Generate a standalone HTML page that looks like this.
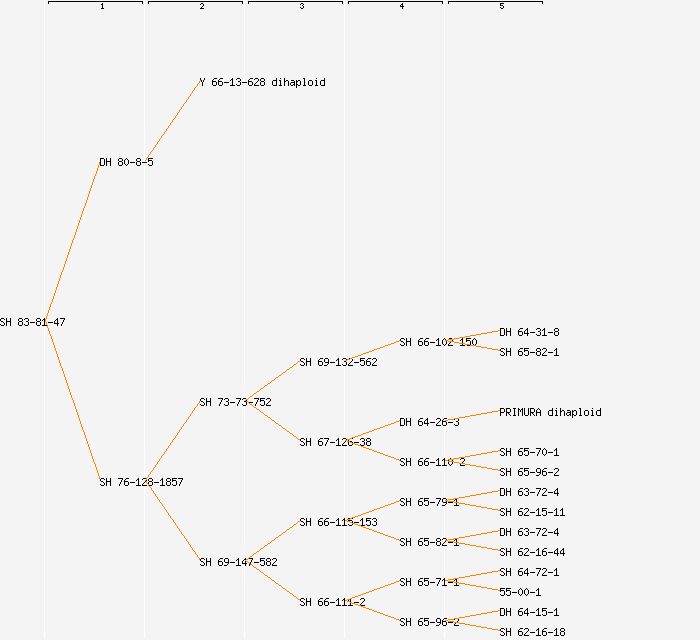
<!DOCTYPE html>
<html><head><meta charset="utf-8"><title>pedigree</title><style>
html,body{margin:0;padding:0;background:#f4f4f4;overflow:hidden;width:700px;height:640px}
svg{position:absolute;left:0;top:0;display:block}
</style></head><body>
<svg width="700" height="640" viewBox="0 0 700 640" shape-rendering="crispEdges">
<rect x="0" y="0" width="700" height="640" fill="#f4f4f4"/>
<path fill="#fff" d="M44 1h1v637h-1zM144 1h1v637h-1zM244 1h1v637h-1zM344 1h1v637h-1zM444 1h1v637h-1z"/>
<path fill="#000" d="M48 1h95v1h-95zM148 1h95v1h-95zM248 1h95v1h-95zM348 1h95v1h-95zM448 1h95v1h-95zM48 2h1v2h-1zM142 2h1v2h-1zM148 2h1v2h-1zM242 2h1v2h-1zM248 2h1v2h-1zM342 2h1v2h-1zM348 2h1v2h-1zM442 2h1v2h-1zM448 2h1v2h-1zM542 2h1v2h-1zM102 3h1v1h-1zM201 3h2v1h-2zM301 3h2v1h-2zM402 3h1v1h-1zM500 3h4v1h-4zM101 4h2v1h-2zM200 4h1v1h-1zM203 4h1v2h-1zM300 4h1v1h-1zM303 4h1v1h-1zM401 4h2v1h-2zM500 4h1v1h-1zM102 5h1v3h-1zM302 5h1v1h-1zM400 5h1v1h-1zM402 5h1v1h-1zM500 5h3v1h-3zM202 6h1v1h-1zM303 6h1v2h-1zM400 6h4v1h-4zM503 6h1v2h-1zM201 7h1v1h-1zM300 7h1v1h-1zM402 7h1v2h-1zM500 7h1v1h-1zM101 8h3v1h-3zM200 8h4v1h-4zM301 8h2v1h-2zM501 8h2v1h-2z"/>
<path fill="#000" d="M1 318h3v1h-3zM6 318h1v3h-1zM10 318h1v3h-1zM19 318h3v1h-3zM25 318h3v1h-3zM37 318h3v1h-3zM44 318h1v1h-1zM57 318h1v1h-1zM60 318h5v1h-5zM0 319h1v2h-1zM4 319h1v1h-1zM18 319h1v2h-1zM22 319h1v2h-1zM24 319h1v1h-1zM28 319h1v2h-1zM36 319h1v2h-1zM40 319h1v2h-1zM43 319h2v1h-2zM56 319h2v1h-2zM64 319h1v1h-1zM42 320h1v1h-1zM44 320h1v5h-1zM55 320h1v1h-1zM57 320h1v3h-1zM63 320h1v2h-1zM1 321h2v1h-2zM6 321h5v1h-5zM19 321h3v1h-3zM26 321h2v1h-2zM37 321h3v1h-3zM54 321h1v2h-1zM3 322h1v1h-1zM6 322h1v4h-1zM10 322h1v4h-1zM18 322h1v3h-1zM22 322h1v3h-1zM28 322h1v3h-1zM30 322h5v1h-5zM36 322h1v3h-1zM40 322h1v3h-1zM48 322h5v1h-5zM62 322h1v2h-1zM4 323h1v2h-1zM54 323h5v1h-5zM0 324h1v1h-1zM24 324h1v1h-1zM57 324h1v2h-1zM61 324h1v2h-1zM1 325h3v1h-3zM19 325h3v1h-3zM25 325h3v1h-3zM37 325h3v1h-3zM42 325h5v1h-5z"/>
<path fill="#ff8400" d="M100 160h1v2h-1zM99 162h1v3h-1zM98 165h1v3h-1zM97 168h1v3h-1zM96 171h1v3h-1zM95 174h1v2h-1zM94 176h1v3h-1zM93 179h1v3h-1zM92 182h1v3h-1zM91 185h1v3h-1zM90 188h1v3h-1zM89 191h1v3h-1zM88 194h1v3h-1zM87 197h1v3h-1zM86 200h1v3h-1zM85 203h1v3h-1zM84 206h1v2h-1zM83 208h1v3h-1zM82 211h1v3h-1zM81 214h1v3h-1zM80 217h1v3h-1zM79 220h1v3h-1zM78 223h1v3h-1zM77 226h1v3h-1zM76 229h1v3h-1zM75 232h1v3h-1zM74 235h1v3h-1zM73 238h1v2h-1zM72 240h1v3h-1zM71 243h1v3h-1zM70 246h1v3h-1zM69 249h1v3h-1zM68 252h1v3h-1zM67 255h1v3h-1zM66 258h1v3h-1zM65 261h1v3h-1zM64 264h1v3h-1zM63 267h1v3h-1zM62 270h1v2h-1zM61 272h1v3h-1zM60 275h1v3h-1zM59 278h1v3h-1zM58 281h1v3h-1zM57 284h1v3h-1zM56 287h1v3h-1zM55 290h1v3h-1zM54 293h1v3h-1zM53 296h1v3h-1zM52 299h1v3h-1zM51 302h1v2h-1zM50 304h1v3h-1zM49 307h1v3h-1zM48 310h1v3h-1zM47 313h1v3h-1zM46 316h1v3h-1zM45 319h1v3h-1zM46 322h1v3h-1zM47 325h1v3h-1zM48 328h1v3h-1zM49 331h1v3h-1zM50 334h1v2h-1zM51 336h1v3h-1zM52 339h1v3h-1zM53 342h1v3h-1zM54 345h1v3h-1zM55 348h1v3h-1zM56 351h1v3h-1zM57 354h1v3h-1zM58 357h1v3h-1zM59 360h1v3h-1zM60 363h1v3h-1zM61 366h1v2h-1zM62 368h1v3h-1zM63 371h1v3h-1zM64 374h1v3h-1zM65 377h1v3h-1zM66 380h1v3h-1zM67 383h1v3h-1zM68 386h1v3h-1zM69 389h1v3h-1zM70 392h1v3h-1zM71 395h1v3h-1zM72 398h1v2h-1zM73 400h1v3h-1zM74 403h1v3h-1zM75 406h1v3h-1zM76 409h1v3h-1zM77 412h1v3h-1zM78 415h1v3h-1zM79 418h1v3h-1zM80 421h1v3h-1zM81 424h1v3h-1zM82 427h1v3h-1zM83 430h1v2h-1zM84 432h1v3h-1zM85 435h1v3h-1zM86 438h1v3h-1zM87 441h1v3h-1zM88 444h1v3h-1zM89 447h1v3h-1zM90 450h1v3h-1zM91 453h1v3h-1zM92 456h1v3h-1zM93 459h1v3h-1zM94 462h1v2h-1zM95 464h1v3h-1zM96 467h1v3h-1zM97 470h1v3h-1zM98 473h1v3h-1zM99 476h1v3h-1zM100 479h1v2h-1z"/>
<path fill="#000" d="M100 158h4v1h-4zM106 158h1v3h-1zM110 158h1v3h-1zM119 158h3v1h-3zM126 158h1v1h-1zM137 158h3v1h-3zM148 158h5v1h-5zM100 159h1v6h-1zM104 159h1v6h-1zM118 159h1v2h-1zM122 159h1v2h-1zM125 159h1v1h-1zM127 159h1v1h-1zM136 159h1v2h-1zM140 159h1v2h-1zM148 159h1v1h-1zM124 160h1v4h-1zM128 160h1v4h-1zM148 160h4v1h-4zM106 161h5v1h-5zM119 161h3v1h-3zM137 161h3v1h-3zM148 161h1v1h-1zM152 161h1v4h-1zM106 162h1v4h-1zM110 162h1v4h-1zM118 162h1v3h-1zM122 162h1v3h-1zM130 162h5v1h-5zM136 162h1v3h-1zM140 162h1v3h-1zM142 162h5v1h-5zM125 164h1v1h-1zM127 164h1v1h-1zM148 164h1v1h-1zM100 165h4v1h-4zM119 165h3v1h-3zM126 165h1v1h-1zM137 165h3v1h-3zM149 165h3v1h-3zM101 478h3v1h-3zM106 478h1v3h-1zM110 478h1v3h-1zM118 478h5v1h-5zM126 478h3v1h-3zM138 478h1v1h-1zM143 478h3v1h-3zM149 478h3v1h-3zM162 478h1v1h-1zM167 478h3v1h-3zM172 478h5v1h-5zM178 478h5v1h-5zM100 479h1v2h-1zM104 479h1v1h-1zM122 479h1v1h-1zM125 479h1v1h-1zM137 479h2v1h-2zM142 479h1v1h-1zM146 479h1v2h-1zM148 479h1v2h-1zM152 479h1v2h-1zM161 479h2v1h-2zM166 479h1v2h-1zM170 479h1v2h-1zM172 479h1v1h-1zM182 479h1v1h-1zM121 480h1v2h-1zM124 480h1v1h-1zM136 480h1v1h-1zM138 480h1v5h-1zM160 480h1v1h-1zM162 480h1v5h-1zM172 480h4v1h-4zM181 480h1v2h-1zM101 481h2v1h-2zM106 481h5v1h-5zM124 481h4v1h-4zM145 481h1v1h-1zM149 481h3v1h-3zM167 481h3v1h-3zM172 481h1v1h-1zM176 481h1v4h-1zM103 482h1v1h-1zM106 482h1v4h-1zM110 482h1v4h-1zM120 482h1v2h-1zM124 482h1v3h-1zM128 482h1v3h-1zM130 482h5v1h-5zM144 482h1v1h-1zM148 482h1v3h-1zM152 482h1v3h-1zM154 482h5v1h-5zM166 482h1v3h-1zM170 482h1v3h-1zM180 482h1v2h-1zM104 483h1v2h-1zM143 483h1v1h-1zM100 484h1v1h-1zM119 484h1v2h-1zM142 484h1v1h-1zM172 484h1v1h-1zM179 484h1v2h-1zM101 485h3v1h-3zM125 485h3v1h-3zM136 485h5v1h-5zM142 485h5v1h-5zM149 485h3v1h-3zM160 485h5v1h-5zM167 485h3v1h-3zM173 485h3v1h-3z"/>
<path fill="#ff8400" d="M200 80h1v1h-1zM199 81h1v2h-1zM198 83h1v1h-1zM197 84h1v2h-1zM196 86h1v1h-1zM195 87h1v1h-1zM194 88h1v2h-1zM193 90h1v1h-1zM192 91h1v2h-1zM191 93h1v1h-1zM190 94h1v2h-1zM189 96h1v1h-1zM188 97h1v2h-1zM187 99h1v1h-1zM186 100h1v2h-1zM185 102h1v1h-1zM184 103h1v1h-1zM183 104h1v2h-1zM182 106h1v1h-1zM181 107h1v2h-1zM180 109h1v1h-1zM179 110h1v2h-1zM178 112h1v1h-1zM177 113h1v2h-1zM176 115h1v1h-1zM175 116h1v2h-1zM174 118h1v1h-1zM173 119h1v1h-1zM172 120h1v2h-1zM171 122h1v1h-1zM170 123h1v2h-1zM169 125h1v1h-1zM168 126h1v2h-1zM167 128h1v1h-1zM166 129h1v2h-1zM165 131h1v1h-1zM164 132h1v2h-1zM163 134h1v1h-1zM162 135h1v1h-1zM161 136h1v2h-1zM160 138h1v1h-1zM159 139h1v2h-1zM158 141h1v1h-1zM157 142h1v2h-1zM156 144h1v1h-1zM155 145h1v2h-1zM154 147h1v1h-1zM153 148h1v2h-1zM152 150h1v1h-1zM151 151h1v1h-1zM150 152h1v2h-1zM149 154h1v1h-1zM148 155h1v2h-1zM147 157h1v1h-1zM146 158h1v2h-1zM145 160h1v1h-1zM200 400h1v1h-1zM199 401h1v2h-1zM198 403h1v1h-1zM197 404h1v2h-1zM196 406h1v1h-1zM195 407h1v1h-1zM194 408h1v2h-1zM193 410h1v1h-1zM192 411h1v2h-1zM191 413h1v1h-1zM190 414h1v2h-1zM189 416h1v1h-1zM188 417h1v2h-1zM187 419h1v1h-1zM186 420h1v2h-1zM185 422h1v1h-1zM184 423h1v1h-1zM183 424h1v2h-1zM182 426h1v1h-1zM181 427h1v2h-1zM180 429h1v1h-1zM179 430h1v2h-1zM178 432h1v1h-1zM177 433h1v2h-1zM176 435h1v1h-1zM175 436h1v2h-1zM174 438h1v1h-1zM173 439h1v1h-1zM172 440h1v2h-1zM171 442h1v1h-1zM170 443h1v2h-1zM169 445h1v1h-1zM168 446h1v2h-1zM167 448h1v1h-1zM166 449h1v2h-1zM165 451h1v1h-1zM164 452h1v2h-1zM163 454h1v1h-1zM162 455h1v1h-1zM161 456h1v2h-1zM160 458h1v1h-1zM159 459h1v2h-1zM158 461h1v1h-1zM157 462h1v2h-1zM156 464h1v1h-1zM155 465h1v2h-1zM154 467h1v1h-1zM153 468h1v2h-1zM152 470h1v1h-1zM151 471h1v1h-1zM150 472h1v2h-1zM149 474h1v1h-1zM148 475h1v2h-1zM147 477h1v1h-1zM146 478h1v2h-1zM145 480h1v1h-1zM146 481h1v2h-1zM147 483h1v1h-1zM148 484h1v2h-1zM149 486h1v1h-1zM150 487h1v1h-1zM151 488h1v2h-1zM152 490h1v1h-1zM153 491h1v2h-1zM154 493h1v1h-1zM155 494h1v2h-1zM156 496h1v1h-1zM157 497h1v2h-1zM158 499h1v1h-1zM159 500h1v2h-1zM160 502h1v1h-1zM161 503h1v1h-1zM162 504h1v2h-1zM163 506h1v1h-1zM164 507h1v2h-1zM165 509h1v1h-1zM166 510h1v2h-1zM167 512h1v1h-1zM168 513h1v2h-1zM169 515h1v1h-1zM170 516h1v2h-1zM171 518h1v1h-1zM172 519h1v1h-1zM173 520h1v2h-1zM174 522h1v1h-1zM175 523h1v2h-1zM176 525h1v1h-1zM177 526h1v2h-1zM178 528h1v1h-1zM179 529h1v2h-1zM180 531h1v1h-1zM181 532h1v2h-1zM182 534h1v1h-1zM183 535h1v1h-1zM184 536h1v2h-1zM185 538h1v1h-1zM186 539h1v2h-1zM187 541h1v1h-1zM188 542h1v2h-1zM189 544h1v1h-1zM190 545h1v2h-1zM191 547h1v1h-1zM192 548h1v2h-1zM193 550h1v1h-1zM194 551h1v1h-1zM195 552h1v2h-1zM196 554h1v1h-1zM197 555h1v2h-1zM198 557h1v1h-1zM199 558h1v2h-1zM200 560h1v1h-1z"/>
<path fill="#000" d="M200 78h1v2h-1zM204 78h1v2h-1zM214 78h3v1h-3zM220 78h3v1h-3zM232 78h1v1h-1zM237 78h3v1h-3zM250 78h3v1h-3zM255 78h3v1h-3zM261 78h3v1h-3zM276 78h1v2h-1zM280 78h1v1h-1zM284 78h1v3h-1zM303 78h2v1h-2zM316 78h1v1h-1zM324 78h1v2h-1zM213 79h1v1h-1zM219 79h1v1h-1zM231 79h2v1h-2zM236 79h1v1h-1zM240 79h1v2h-1zM249 79h1v1h-1zM254 79h1v1h-1zM258 79h1v2h-1zM260 79h1v2h-1zM264 79h1v2h-1zM304 79h1v6h-1zM201 80h1v2h-1zM203 80h1v2h-1zM212 80h1v1h-1zM218 80h1v1h-1zM230 80h1v1h-1zM232 80h1v5h-1zM248 80h1v1h-1zM273 80h4v1h-4zM279 80h2v1h-2zM286 80h2v1h-2zM291 80h3v1h-3zM296 80h1v1h-1zM298 80h2v1h-2zM309 80h3v1h-3zM315 80h2v1h-2zM321 80h4v1h-4zM212 81h4v1h-4zM218 81h4v1h-4zM238 81h2v1h-2zM248 81h4v1h-4zM257 81h1v1h-1zM261 81h3v1h-3zM272 81h1v4h-1zM276 81h1v4h-1zM280 81h1v4h-1zM284 81h2v1h-2zM288 81h1v5h-1zM294 81h1v1h-1zM296 81h2v1h-2zM300 81h1v4h-1zM308 81h1v4h-1zM312 81h1v4h-1zM316 81h1v4h-1zM320 81h1v4h-1zM324 81h1v4h-1zM202 82h1v4h-1zM212 82h1v3h-1zM216 82h1v3h-1zM218 82h1v3h-1zM222 82h1v3h-1zM224 82h5v1h-5zM240 82h1v3h-1zM242 82h5v1h-5zM248 82h1v3h-1zM252 82h1v3h-1zM256 82h1v1h-1zM260 82h1v3h-1zM264 82h1v3h-1zM284 82h1v4h-1zM291 82h4v1h-4zM296 82h1v2h-1zM255 83h1v1h-1zM290 83h1v2h-1zM294 83h1v1h-1zM236 84h1v1h-1zM254 84h1v1h-1zM293 84h2v1h-2zM296 84h2v1h-2zM213 85h3v1h-3zM219 85h3v1h-3zM230 85h5v1h-5zM237 85h3v1h-3zM249 85h3v1h-3zM254 85h5v1h-5zM261 85h3v1h-3zM273 85h4v1h-4zM279 85h3v1h-3zM291 85h2v1h-2zM294 85h1v1h-1zM296 85h1v3h-1zM298 85h2v1h-2zM303 85h3v1h-3zM309 85h3v1h-3zM315 85h3v1h-3zM321 85h4v1h-4zM201 398h3v1h-3zM206 398h1v3h-1zM210 398h1v3h-1zM218 398h5v1h-5zM225 398h3v1h-3zM236 398h5v1h-5zM243 398h3v1h-3zM254 398h5v1h-5zM260 398h5v1h-5zM267 398h3v1h-3zM200 399h1v2h-1zM204 399h1v1h-1zM222 399h1v1h-1zM224 399h1v1h-1zM228 399h1v2h-1zM240 399h1v1h-1zM242 399h1v1h-1zM246 399h1v2h-1zM258 399h1v1h-1zM260 399h1v1h-1zM266 399h1v1h-1zM270 399h1v2h-1zM221 400h1v2h-1zM239 400h1v2h-1zM257 400h1v2h-1zM260 400h4v1h-4zM201 401h2v1h-2zM206 401h5v1h-5zM226 401h2v1h-2zM244 401h2v1h-2zM260 401h1v1h-1zM264 401h1v4h-1zM269 401h1v1h-1zM203 402h1v1h-1zM206 402h1v4h-1zM210 402h1v4h-1zM220 402h1v2h-1zM228 402h1v3h-1zM230 402h5v1h-5zM238 402h1v2h-1zM246 402h1v3h-1zM248 402h5v1h-5zM256 402h1v2h-1zM268 402h1v1h-1zM204 403h1v2h-1zM267 403h1v1h-1zM200 404h1v1h-1zM219 404h1v2h-1zM224 404h1v1h-1zM237 404h1v2h-1zM242 404h1v1h-1zM255 404h1v2h-1zM260 404h1v1h-1zM266 404h1v1h-1zM201 405h3v1h-3zM225 405h3v1h-3zM243 405h3v1h-3zM261 405h3v1h-3zM266 405h5v1h-5zM201 558h3v1h-3zM206 558h1v3h-1zM210 558h1v3h-1zM220 558h3v1h-3zM225 558h3v1h-3zM238 558h1v1h-1zM245 558h1v1h-1zM248 558h5v1h-5zM260 558h5v1h-5zM267 558h3v1h-3zM273 558h3v1h-3zM200 559h1v2h-1zM204 559h1v1h-1zM219 559h1v1h-1zM224 559h1v3h-1zM228 559h1v3h-1zM237 559h2v1h-2zM244 559h2v1h-2zM252 559h1v1h-1zM260 559h1v1h-1zM266 559h1v2h-1zM270 559h1v2h-1zM272 559h1v1h-1zM276 559h1v2h-1zM218 560h1v1h-1zM236 560h1v1h-1zM238 560h1v5h-1zM243 560h1v1h-1zM245 560h1v3h-1zM251 560h1v2h-1zM260 560h4v1h-4zM201 561h2v1h-2zM206 561h5v1h-5zM218 561h4v1h-4zM242 561h1v2h-1zM260 561h1v1h-1zM264 561h1v4h-1zM267 561h3v1h-3zM275 561h1v1h-1zM203 562h1v1h-1zM206 562h1v4h-1zM210 562h1v4h-1zM218 562h1v3h-1zM222 562h1v3h-1zM225 562h4v1h-4zM230 562h5v1h-5zM250 562h1v2h-1zM254 562h5v1h-5zM266 562h1v3h-1zM270 562h1v3h-1zM274 562h1v1h-1zM204 563h1v2h-1zM228 563h1v1h-1zM242 563h5v1h-5zM273 563h1v1h-1zM200 564h1v1h-1zM227 564h1v1h-1zM245 564h1v2h-1zM249 564h1v2h-1zM260 564h1v1h-1zM272 564h1v1h-1zM201 565h3v1h-3zM219 565h3v1h-3zM224 565h3v1h-3zM236 565h5v1h-5zM261 565h3v1h-3zM267 565h3v1h-3zM272 565h5v1h-5z"/>
<path fill="#ff8400" d="M300 360h1v1h-1zM298 361h2v1h-2zM297 362h1v1h-1zM296 363h1v1h-1zM294 364h2v1h-2zM293 365h1v1h-1zM292 366h1v1h-1zM290 367h2v1h-2zM289 368h1v1h-1zM287 369h2v1h-2zM286 370h1v1h-1zM285 371h1v1h-1zM283 372h2v1h-2zM282 373h1v1h-1zM281 374h1v1h-1zM279 375h2v1h-2zM278 376h1v1h-1zM276 377h2v1h-2zM275 378h1v1h-1zM274 379h1v1h-1zM272 380h2v1h-2zM271 381h1v1h-1zM270 382h1v1h-1zM268 383h2v1h-2zM267 384h1v1h-1zM265 385h2v1h-2zM264 386h1v1h-1zM263 387h1v1h-1zM261 388h2v1h-2zM260 389h1v1h-1zM259 390h1v1h-1zM257 391h2v1h-2zM256 392h1v1h-1zM254 393h2v1h-2zM253 394h1v1h-1zM252 395h1v1h-1zM250 396h2v1h-2zM249 397h1v1h-1zM248 398h1v1h-1zM246 399h2v1h-2zM245 400h1v1h-1zM246 401h2v1h-2zM248 402h1v1h-1zM249 403h1v1h-1zM250 404h2v1h-2zM252 405h1v1h-1zM253 406h1v1h-1zM254 407h2v1h-2zM256 408h1v1h-1zM257 409h2v1h-2zM259 410h1v1h-1zM260 411h1v1h-1zM261 412h2v1h-2zM263 413h1v1h-1zM264 414h1v1h-1zM265 415h2v1h-2zM267 416h1v1h-1zM268 417h2v1h-2zM270 418h1v1h-1zM271 419h1v1h-1zM272 420h2v1h-2zM274 421h1v1h-1zM275 422h1v1h-1zM276 423h2v1h-2zM278 424h1v1h-1zM279 425h2v1h-2zM281 426h1v1h-1zM282 427h1v1h-1zM283 428h2v1h-2zM285 429h1v1h-1zM286 430h1v1h-1zM287 431h2v1h-2zM289 432h1v1h-1zM290 433h2v1h-2zM292 434h1v1h-1zM293 435h1v1h-1zM294 436h2v1h-2zM296 437h1v1h-1zM297 438h1v1h-1zM298 439h2v1h-2zM300 440h1v1h-1zM300 520h1v1h-1zM298 521h2v1h-2zM297 522h1v1h-1zM296 523h1v1h-1zM294 524h2v1h-2zM293 525h1v1h-1zM292 526h1v1h-1zM290 527h2v1h-2zM289 528h1v1h-1zM287 529h2v1h-2zM286 530h1v1h-1zM285 531h1v1h-1zM283 532h2v1h-2zM282 533h1v1h-1zM281 534h1v1h-1zM279 535h2v1h-2zM278 536h1v1h-1zM276 537h2v1h-2zM275 538h1v1h-1zM274 539h1v1h-1zM272 540h2v1h-2zM271 541h1v1h-1zM270 542h1v1h-1zM268 543h2v1h-2zM267 544h1v1h-1zM265 545h2v1h-2zM264 546h1v1h-1zM263 547h1v1h-1zM261 548h2v1h-2zM260 549h1v1h-1zM259 550h1v1h-1zM257 551h2v1h-2zM256 552h1v1h-1zM254 553h2v1h-2zM253 554h1v1h-1zM252 555h1v1h-1zM250 556h2v1h-2zM249 557h1v1h-1zM248 558h1v1h-1zM246 559h2v1h-2zM245 560h1v1h-1zM246 561h2v1h-2zM248 562h1v1h-1zM249 563h1v1h-1zM250 564h2v1h-2zM252 565h1v1h-1zM253 566h1v1h-1zM254 567h2v1h-2zM256 568h1v1h-1zM257 569h2v1h-2zM259 570h1v1h-1zM260 571h1v1h-1zM261 572h2v1h-2zM263 573h1v1h-1zM264 574h1v1h-1zM265 575h2v1h-2zM267 576h1v1h-1zM268 577h2v1h-2zM270 578h1v1h-1zM271 579h1v1h-1zM272 580h2v1h-2zM274 581h1v1h-1zM275 582h1v1h-1zM276 583h2v1h-2zM278 584h1v1h-1zM279 585h2v1h-2zM281 586h1v1h-1zM282 587h1v1h-1zM283 588h2v1h-2zM285 589h1v1h-1zM286 590h1v1h-1zM287 591h2v1h-2zM289 592h1v1h-1zM290 593h2v1h-2zM292 594h1v1h-1zM293 595h1v1h-1zM294 596h2v1h-2zM296 597h1v1h-1zM297 598h1v1h-1zM298 599h2v1h-2zM300 600h1v1h-1z"/>
<path fill="#000" d="M301 358h3v1h-3zM306 358h1v3h-1zM310 358h1v3h-1zM320 358h3v1h-3zM325 358h3v1h-3zM338 358h1v1h-1zM343 358h3v1h-3zM349 358h3v1h-3zM360 358h5v1h-5zM368 358h3v1h-3zM373 358h3v1h-3zM300 359h1v2h-1zM304 359h1v1h-1zM319 359h1v1h-1zM324 359h1v3h-1zM328 359h1v3h-1zM337 359h2v1h-2zM342 359h1v1h-1zM346 359h1v2h-1zM348 359h1v1h-1zM352 359h1v2h-1zM360 359h1v1h-1zM367 359h1v1h-1zM372 359h1v1h-1zM376 359h1v2h-1zM318 360h1v1h-1zM336 360h1v1h-1zM338 360h1v5h-1zM360 360h4v1h-4zM366 360h1v1h-1zM301 361h2v1h-2zM306 361h5v1h-5zM318 361h4v1h-4zM344 361h2v1h-2zM351 361h1v1h-1zM360 361h1v1h-1zM364 361h1v4h-1zM366 361h4v1h-4zM375 361h1v1h-1zM303 362h1v1h-1zM306 362h1v4h-1zM310 362h1v4h-1zM318 362h1v3h-1zM322 362h1v3h-1zM325 362h4v1h-4zM330 362h5v1h-5zM346 362h1v3h-1zM350 362h1v1h-1zM354 362h5v1h-5zM366 362h1v3h-1zM370 362h1v3h-1zM374 362h1v1h-1zM304 363h1v2h-1zM328 363h1v1h-1zM349 363h1v1h-1zM373 363h1v1h-1zM300 364h1v1h-1zM327 364h1v1h-1zM342 364h1v1h-1zM348 364h1v1h-1zM360 364h1v1h-1zM372 364h1v1h-1zM301 365h3v1h-3zM319 365h3v1h-3zM324 365h3v1h-3zM336 365h5v1h-5zM343 365h3v1h-3zM348 365h5v1h-5zM361 365h3v1h-3zM367 365h3v1h-3zM372 365h5v1h-5zM301 438h3v1h-3zM306 438h1v3h-1zM310 438h1v3h-1zM320 438h3v1h-3zM324 438h5v1h-5zM338 438h1v1h-1zM343 438h3v1h-3zM350 438h3v1h-3zM361 438h3v1h-3zM367 438h3v1h-3zM300 439h1v2h-1zM304 439h1v1h-1zM319 439h1v1h-1zM328 439h1v1h-1zM337 439h2v1h-2zM342 439h1v1h-1zM346 439h1v2h-1zM349 439h1v1h-1zM360 439h1v1h-1zM364 439h1v2h-1zM366 439h1v2h-1zM370 439h1v2h-1zM318 440h1v1h-1zM327 440h1v2h-1zM336 440h1v1h-1zM338 440h1v5h-1zM348 440h1v1h-1zM301 441h2v1h-2zM306 441h5v1h-5zM318 441h4v1h-4zM345 441h1v1h-1zM348 441h4v1h-4zM362 441h2v1h-2zM367 441h3v1h-3zM303 442h1v1h-1zM306 442h1v4h-1zM310 442h1v4h-1zM318 442h1v3h-1zM322 442h1v3h-1zM326 442h1v2h-1zM330 442h5v1h-5zM344 442h1v1h-1zM348 442h1v3h-1zM352 442h1v3h-1zM354 442h5v1h-5zM364 442h1v3h-1zM366 442h1v3h-1zM370 442h1v3h-1zM304 443h1v2h-1zM343 443h1v1h-1zM300 444h1v1h-1zM325 444h1v2h-1zM342 444h1v1h-1zM360 444h1v1h-1zM301 445h3v1h-3zM319 445h3v1h-3zM336 445h5v1h-5zM342 445h5v1h-5zM349 445h3v1h-3zM361 445h3v1h-3zM367 445h3v1h-3zM301 518h3v1h-3zM306 518h1v3h-1zM310 518h1v3h-1zM320 518h3v1h-3zM326 518h3v1h-3zM338 518h1v1h-1zM344 518h1v1h-1zM348 518h5v1h-5zM362 518h1v1h-1zM366 518h5v1h-5zM373 518h3v1h-3zM300 519h1v2h-1zM304 519h1v1h-1zM319 519h1v1h-1zM325 519h1v1h-1zM337 519h2v1h-2zM343 519h2v1h-2zM348 519h1v1h-1zM361 519h2v1h-2zM366 519h1v1h-1zM372 519h1v1h-1zM376 519h1v2h-1zM318 520h1v1h-1zM324 520h1v1h-1zM336 520h1v1h-1zM338 520h1v5h-1zM342 520h1v1h-1zM344 520h1v5h-1zM348 520h4v1h-4zM360 520h1v1h-1zM362 520h1v5h-1zM366 520h4v1h-4zM301 521h2v1h-2zM306 521h5v1h-5zM318 521h4v1h-4zM324 521h4v1h-4zM348 521h1v1h-1zM352 521h1v4h-1zM366 521h1v1h-1zM370 521h1v4h-1zM374 521h2v1h-2zM303 522h1v1h-1zM306 522h1v4h-1zM310 522h1v4h-1zM318 522h1v3h-1zM322 522h1v3h-1zM324 522h1v3h-1zM328 522h1v3h-1zM330 522h5v1h-5zM354 522h5v1h-5zM376 522h1v3h-1zM304 523h1v2h-1zM300 524h1v1h-1zM348 524h1v1h-1zM366 524h1v1h-1zM372 524h1v1h-1zM301 525h3v1h-3zM319 525h3v1h-3zM325 525h3v1h-3zM336 525h5v1h-5zM342 525h5v1h-5zM349 525h3v1h-3zM360 525h5v1h-5zM367 525h3v1h-3zM373 525h3v1h-3zM301 598h3v1h-3zM306 598h1v3h-1zM310 598h1v3h-1zM320 598h3v1h-3zM326 598h3v1h-3zM338 598h1v1h-1zM344 598h1v1h-1zM350 598h1v1h-1zM361 598h3v1h-3zM300 599h1v2h-1zM304 599h1v1h-1zM319 599h1v1h-1zM325 599h1v1h-1zM337 599h2v1h-2zM343 599h2v1h-2zM349 599h2v1h-2zM360 599h1v1h-1zM364 599h1v2h-1zM318 600h1v1h-1zM324 600h1v1h-1zM336 600h1v1h-1zM338 600h1v5h-1zM342 600h1v1h-1zM344 600h1v5h-1zM348 600h1v1h-1zM350 600h1v5h-1zM301 601h2v1h-2zM306 601h5v1h-5zM318 601h4v1h-4zM324 601h4v1h-4zM363 601h1v1h-1zM303 602h1v1h-1zM306 602h1v4h-1zM310 602h1v4h-1zM318 602h1v3h-1zM322 602h1v3h-1zM324 602h1v3h-1zM328 602h1v3h-1zM330 602h5v1h-5zM354 602h5v1h-5zM362 602h1v1h-1zM304 603h1v2h-1zM361 603h1v1h-1zM300 604h1v1h-1zM360 604h1v1h-1zM301 605h3v1h-3zM319 605h3v1h-3zM325 605h3v1h-3zM336 605h5v1h-5zM342 605h5v1h-5zM348 605h5v1h-5zM360 605h5v1h-5z"/>
<path fill="#ff8400" d="M399 340h2v1h-2zM396 341h3v1h-3zM394 342h2v1h-2zM391 343h3v1h-3zM388 344h3v1h-3zM385 345h3v1h-3zM383 346h2v1h-2zM380 347h3v1h-3zM377 348h3v1h-3zM374 349h3v1h-3zM372 350h2v1h-2zM369 351h3v1h-3zM366 352h3v1h-3zM363 353h3v1h-3zM361 354h2v1h-2zM358 355h3v1h-3zM355 356h3v1h-3zM352 357h3v1h-3zM350 358h2v1h-2zM347 359h3v1h-3zM345 360h2v1h-2zM399 420h2v1h-2zM396 421h3v1h-3zM394 422h2v1h-2zM391 423h3v1h-3zM388 424h3v1h-3zM385 425h3v1h-3zM383 426h2v1h-2zM380 427h3v1h-3zM377 428h3v1h-3zM374 429h3v1h-3zM372 430h2v1h-2zM369 431h3v1h-3zM366 432h3v1h-3zM363 433h3v1h-3zM361 434h2v1h-2zM358 435h3v1h-3zM355 436h3v1h-3zM352 437h3v1h-3zM350 438h2v1h-2zM347 439h3v1h-3zM345 440h2v1h-2zM347 441h3v1h-3zM350 442h2v1h-2zM352 443h3v1h-3zM355 444h3v1h-3zM358 445h3v1h-3zM361 446h2v1h-2zM363 447h3v1h-3zM366 448h3v1h-3zM369 449h3v1h-3zM372 450h2v1h-2zM374 451h3v1h-3zM377 452h3v1h-3zM380 453h3v1h-3zM383 454h2v1h-2zM385 455h3v1h-3zM388 456h3v1h-3zM391 457h3v1h-3zM394 458h2v1h-2zM396 459h3v1h-3zM399 460h2v1h-2zM399 500h2v1h-2zM396 501h3v1h-3zM394 502h2v1h-2zM391 503h3v1h-3zM388 504h3v1h-3zM385 505h3v1h-3zM383 506h2v1h-2zM380 507h3v1h-3zM377 508h3v1h-3zM374 509h3v1h-3zM372 510h2v1h-2zM369 511h3v1h-3zM366 512h3v1h-3zM363 513h3v1h-3zM361 514h2v1h-2zM358 515h3v1h-3zM355 516h3v1h-3zM352 517h3v1h-3zM350 518h2v1h-2zM347 519h3v1h-3zM345 520h2v1h-2zM347 521h3v1h-3zM350 522h2v1h-2zM352 523h3v1h-3zM355 524h3v1h-3zM358 525h3v1h-3zM361 526h2v1h-2zM363 527h3v1h-3zM366 528h3v1h-3zM369 529h3v1h-3zM372 530h2v1h-2zM374 531h3v1h-3zM377 532h3v1h-3zM380 533h3v1h-3zM383 534h2v1h-2zM385 535h3v1h-3zM388 536h3v1h-3zM391 537h3v1h-3zM394 538h2v1h-2zM396 539h3v1h-3zM399 540h2v1h-2zM399 580h2v1h-2zM396 581h3v1h-3zM394 582h2v1h-2zM391 583h3v1h-3zM388 584h3v1h-3zM385 585h3v1h-3zM383 586h2v1h-2zM380 587h3v1h-3zM377 588h3v1h-3zM374 589h3v1h-3zM372 590h2v1h-2zM369 591h3v1h-3zM366 592h3v1h-3zM363 593h3v1h-3zM361 594h2v1h-2zM358 595h3v1h-3zM355 596h3v1h-3zM352 597h3v1h-3zM350 598h2v1h-2zM347 599h3v1h-3zM345 600h2v1h-2zM347 601h3v1h-3zM350 602h2v1h-2zM352 603h3v1h-3zM355 604h3v1h-3zM358 605h3v1h-3zM361 606h2v1h-2zM363 607h3v1h-3zM366 608h3v1h-3zM369 609h3v1h-3zM372 610h2v1h-2zM374 611h3v1h-3zM377 612h3v1h-3zM380 613h3v1h-3zM383 614h2v1h-2zM385 615h3v1h-3zM388 616h3v1h-3zM391 617h3v1h-3zM394 618h2v1h-2zM396 619h3v1h-3zM399 620h2v1h-2z"/>
<path fill="#000" d="M401 338h3v1h-3zM406 338h1v3h-1zM410 338h1v3h-1zM420 338h3v1h-3zM426 338h3v1h-3zM438 338h1v1h-1zM444 338h1v1h-1zM449 338h3v1h-3zM462 338h1v1h-1zM466 338h5v1h-5zM474 338h1v1h-1zM400 339h1v2h-1zM404 339h1v1h-1zM419 339h1v1h-1zM425 339h1v1h-1zM437 339h2v1h-2zM443 339h1v1h-1zM445 339h1v1h-1zM448 339h1v1h-1zM452 339h1v2h-1zM461 339h2v1h-2zM466 339h1v1h-1zM473 339h1v1h-1zM475 339h1v1h-1zM418 340h1v1h-1zM424 340h1v1h-1zM436 340h1v1h-1zM438 340h1v5h-1zM442 340h1v4h-1zM446 340h1v4h-1zM460 340h1v1h-1zM462 340h1v5h-1zM466 340h4v1h-4zM472 340h1v4h-1zM476 340h1v4h-1zM401 341h2v1h-2zM406 341h5v1h-5zM418 341h4v1h-4zM424 341h4v1h-4zM451 341h1v1h-1zM466 341h1v1h-1zM470 341h1v4h-1zM403 342h1v1h-1zM406 342h1v4h-1zM410 342h1v4h-1zM418 342h1v3h-1zM422 342h1v3h-1zM424 342h1v3h-1zM428 342h1v3h-1zM430 342h5v1h-5zM450 342h1v1h-1zM454 342h5v1h-5zM404 343h1v2h-1zM449 343h1v1h-1zM400 344h1v1h-1zM443 344h1v1h-1zM445 344h1v1h-1zM448 344h1v1h-1zM466 344h1v1h-1zM473 344h1v1h-1zM475 344h1v1h-1zM401 345h3v1h-3zM419 345h3v1h-3zM425 345h3v1h-3zM436 345h5v1h-5zM444 345h1v1h-1zM448 345h5v1h-5zM460 345h5v1h-5zM467 345h3v1h-3zM474 345h1v1h-1zM400 418h4v1h-4zM406 418h1v3h-1zM410 418h1v3h-1zM420 418h3v1h-3zM427 418h1v1h-1zM437 418h3v1h-3zM444 418h3v1h-3zM455 418h3v1h-3zM400 419h1v6h-1zM404 419h1v6h-1zM419 419h1v1h-1zM426 419h2v1h-2zM436 419h1v1h-1zM440 419h1v2h-1zM443 419h1v1h-1zM454 419h1v1h-1zM458 419h1v2h-1zM418 420h1v1h-1zM425 420h1v1h-1zM427 420h1v3h-1zM442 420h1v1h-1zM406 421h5v1h-5zM418 421h4v1h-4zM424 421h1v2h-1zM439 421h1v1h-1zM442 421h4v1h-4zM456 421h2v1h-2zM406 422h1v4h-1zM410 422h1v4h-1zM418 422h1v3h-1zM422 422h1v3h-1zM430 422h5v1h-5zM438 422h1v1h-1zM442 422h1v3h-1zM446 422h1v3h-1zM448 422h5v1h-5zM458 422h1v3h-1zM424 423h5v1h-5zM437 423h1v1h-1zM427 424h1v2h-1zM436 424h1v1h-1zM454 424h1v1h-1zM400 425h4v1h-4zM419 425h3v1h-3zM436 425h5v1h-5zM443 425h3v1h-3zM455 425h3v1h-3zM401 458h3v1h-3zM406 458h1v3h-1zM410 458h1v3h-1zM420 458h3v1h-3zM426 458h3v1h-3zM438 458h1v1h-1zM444 458h1v1h-1zM450 458h1v1h-1zM461 458h3v1h-3zM400 459h1v2h-1zM404 459h1v1h-1zM419 459h1v1h-1zM425 459h1v1h-1zM437 459h2v1h-2zM443 459h2v1h-2zM449 459h1v1h-1zM451 459h1v1h-1zM460 459h1v1h-1zM464 459h1v2h-1zM418 460h1v1h-1zM424 460h1v1h-1zM436 460h1v1h-1zM438 460h1v5h-1zM442 460h1v1h-1zM444 460h1v5h-1zM448 460h1v4h-1zM452 460h1v4h-1zM401 461h2v1h-2zM406 461h5v1h-5zM418 461h4v1h-4zM424 461h4v1h-4zM463 461h1v1h-1zM403 462h1v1h-1zM406 462h1v4h-1zM410 462h1v4h-1zM418 462h1v3h-1zM422 462h1v3h-1zM424 462h1v3h-1zM428 462h1v3h-1zM430 462h5v1h-5zM454 462h5v1h-5zM462 462h1v1h-1zM404 463h1v2h-1zM461 463h1v1h-1zM400 464h1v1h-1zM449 464h1v1h-1zM451 464h1v1h-1zM460 464h1v1h-1zM401 465h3v1h-3zM419 465h3v1h-3zM425 465h3v1h-3zM436 465h5v1h-5zM442 465h5v1h-5zM450 465h1v1h-1zM460 465h5v1h-5zM401 498h3v1h-3zM406 498h1v3h-1zM410 498h1v3h-1zM420 498h3v1h-3zM424 498h5v1h-5zM436 498h5v1h-5zM443 498h3v1h-3zM456 498h1v1h-1zM400 499h1v2h-1zM404 499h1v1h-1zM419 499h1v1h-1zM424 499h1v1h-1zM440 499h1v1h-1zM442 499h1v3h-1zM446 499h1v3h-1zM455 499h2v1h-2zM418 500h1v1h-1zM424 500h4v1h-4zM439 500h1v2h-1zM454 500h1v1h-1zM456 500h1v5h-1zM401 501h2v1h-2zM406 501h5v1h-5zM418 501h4v1h-4zM424 501h1v1h-1zM428 501h1v4h-1zM403 502h1v1h-1zM406 502h1v4h-1zM410 502h1v4h-1zM418 502h1v3h-1zM422 502h1v3h-1zM430 502h5v1h-5zM438 502h1v2h-1zM443 502h4v1h-4zM448 502h5v1h-5zM404 503h1v2h-1zM446 503h1v1h-1zM400 504h1v1h-1zM424 504h1v1h-1zM437 504h1v2h-1zM445 504h1v1h-1zM401 505h3v1h-3zM419 505h3v1h-3zM425 505h3v1h-3zM442 505h3v1h-3zM454 505h5v1h-5zM401 538h3v1h-3zM406 538h1v3h-1zM410 538h1v3h-1zM420 538h3v1h-3zM424 538h5v1h-5zM437 538h3v1h-3zM443 538h3v1h-3zM456 538h1v1h-1zM400 539h1v2h-1zM404 539h1v1h-1zM419 539h1v1h-1zM424 539h1v1h-1zM436 539h1v2h-1zM440 539h1v2h-1zM442 539h1v1h-1zM446 539h1v2h-1zM455 539h2v1h-2zM418 540h1v1h-1zM424 540h4v1h-4zM454 540h1v1h-1zM456 540h1v5h-1zM401 541h2v1h-2zM406 541h5v1h-5zM418 541h4v1h-4zM424 541h1v1h-1zM428 541h1v4h-1zM437 541h3v1h-3zM445 541h1v1h-1zM403 542h1v1h-1zM406 542h1v4h-1zM410 542h1v4h-1zM418 542h1v3h-1zM422 542h1v3h-1zM430 542h5v1h-5zM436 542h1v3h-1zM440 542h1v3h-1zM444 542h1v1h-1zM448 542h5v1h-5zM404 543h1v2h-1zM443 543h1v1h-1zM400 544h1v1h-1zM424 544h1v1h-1zM442 544h1v1h-1zM401 545h3v1h-3zM419 545h3v1h-3zM425 545h3v1h-3zM437 545h3v1h-3zM442 545h5v1h-5zM454 545h5v1h-5zM401 578h3v1h-3zM406 578h1v3h-1zM410 578h1v3h-1zM420 578h3v1h-3zM424 578h5v1h-5zM436 578h5v1h-5zM444 578h1v1h-1zM456 578h1v1h-1zM400 579h1v2h-1zM404 579h1v1h-1zM419 579h1v1h-1zM424 579h1v1h-1zM440 579h1v1h-1zM443 579h2v1h-2zM455 579h2v1h-2zM418 580h1v1h-1zM424 580h4v1h-4zM439 580h1v2h-1zM442 580h1v1h-1zM444 580h1v5h-1zM454 580h1v1h-1zM456 580h1v5h-1zM401 581h2v1h-2zM406 581h5v1h-5zM418 581h4v1h-4zM424 581h1v1h-1zM428 581h1v4h-1zM403 582h1v1h-1zM406 582h1v4h-1zM410 582h1v4h-1zM418 582h1v3h-1zM422 582h1v3h-1zM430 582h5v1h-5zM438 582h1v2h-1zM448 582h5v1h-5zM404 583h1v2h-1zM400 584h1v1h-1zM424 584h1v1h-1zM437 584h1v2h-1zM401 585h3v1h-3zM419 585h3v1h-3zM425 585h3v1h-3zM442 585h5v1h-5zM454 585h5v1h-5zM401 618h3v1h-3zM406 618h1v3h-1zM410 618h1v3h-1zM420 618h3v1h-3zM424 618h5v1h-5zM437 618h3v1h-3zM444 618h3v1h-3zM455 618h3v1h-3zM400 619h1v2h-1zM404 619h1v1h-1zM419 619h1v1h-1zM424 619h1v1h-1zM436 619h1v3h-1zM440 619h1v3h-1zM443 619h1v1h-1zM454 619h1v1h-1zM458 619h1v2h-1zM418 620h1v1h-1zM424 620h4v1h-4zM442 620h1v1h-1zM401 621h2v1h-2zM406 621h5v1h-5zM418 621h4v1h-4zM424 621h1v1h-1zM428 621h1v4h-1zM442 621h4v1h-4zM457 621h1v1h-1zM403 622h1v1h-1zM406 622h1v4h-1zM410 622h1v4h-1zM418 622h1v3h-1zM422 622h1v3h-1zM430 622h5v1h-5zM437 622h4v1h-4zM442 622h1v3h-1zM446 622h1v3h-1zM448 622h5v1h-5zM456 622h1v1h-1zM404 623h1v2h-1zM440 623h1v1h-1zM455 623h1v1h-1zM400 624h1v1h-1zM424 624h1v1h-1zM439 624h1v1h-1zM454 624h1v1h-1zM401 625h3v1h-3zM419 625h3v1h-3zM425 625h3v1h-3zM436 625h3v1h-3zM443 625h3v1h-3zM454 625h5v1h-5z"/>
<path fill="#ff8400" d="M498 330h3v1h-3zM492 331h6v1h-6zM487 332h5v1h-5zM481 333h6v1h-6zM476 334h5v1h-5zM470 335h6v1h-6zM465 336h5v1h-5zM459 337h6v1h-6zM454 338h5v1h-5zM448 339h6v1h-6zM445 340h3v1h-3zM448 341h6v1h-6zM454 342h5v1h-5zM459 343h6v1h-6zM465 344h5v1h-5zM470 345h6v1h-6zM476 346h5v1h-5zM481 347h6v1h-6zM487 348h5v1h-5zM492 349h6v1h-6zM498 350h3v1h-3zM498 410h3v1h-3zM492 411h6v1h-6zM487 412h5v1h-5zM481 413h6v1h-6zM476 414h5v1h-5zM470 415h6v1h-6zM465 416h5v1h-5zM459 417h6v1h-6zM454 418h5v1h-5zM448 419h6v1h-6zM445 420h3v1h-3zM498 450h3v1h-3zM492 451h6v1h-6zM487 452h5v1h-5zM481 453h6v1h-6zM476 454h5v1h-5zM470 455h6v1h-6zM465 456h5v1h-5zM459 457h6v1h-6zM454 458h5v1h-5zM448 459h6v1h-6zM445 460h3v1h-3zM448 461h6v1h-6zM454 462h5v1h-5zM459 463h6v1h-6zM465 464h5v1h-5zM470 465h6v1h-6zM476 466h5v1h-5zM481 467h6v1h-6zM487 468h5v1h-5zM492 469h6v1h-6zM498 470h3v1h-3zM498 490h3v1h-3zM492 491h6v1h-6zM487 492h5v1h-5zM481 493h6v1h-6zM476 494h5v1h-5zM470 495h6v1h-6zM465 496h5v1h-5zM459 497h6v1h-6zM454 498h5v1h-5zM448 499h6v1h-6zM445 500h3v1h-3zM448 501h6v1h-6zM454 502h5v1h-5zM459 503h6v1h-6zM465 504h5v1h-5zM470 505h6v1h-6zM476 506h5v1h-5zM481 507h6v1h-6zM487 508h5v1h-5zM492 509h6v1h-6zM498 510h3v1h-3zM498 530h3v1h-3zM492 531h6v1h-6zM487 532h5v1h-5zM481 533h6v1h-6zM476 534h5v1h-5zM470 535h6v1h-6zM465 536h5v1h-5zM459 537h6v1h-6zM454 538h5v1h-5zM448 539h6v1h-6zM445 540h3v1h-3zM448 541h6v1h-6zM454 542h5v1h-5zM459 543h6v1h-6zM465 544h5v1h-5zM470 545h6v1h-6zM476 546h5v1h-5zM481 547h6v1h-6zM487 548h5v1h-5zM492 549h6v1h-6zM498 550h3v1h-3zM498 570h3v1h-3zM492 571h6v1h-6zM487 572h5v1h-5zM481 573h6v1h-6zM476 574h5v1h-5zM470 575h6v1h-6zM465 576h5v1h-5zM459 577h6v1h-6zM454 578h5v1h-5zM448 579h6v1h-6zM445 580h3v1h-3zM448 581h6v1h-6zM454 582h5v1h-5zM459 583h6v1h-6zM465 584h5v1h-5zM470 585h6v1h-6zM476 586h5v1h-5zM481 587h6v1h-6zM487 588h5v1h-5zM492 589h6v1h-6zM498 590h3v1h-3zM498 610h3v1h-3zM492 611h6v1h-6zM487 612h5v1h-5zM481 613h6v1h-6zM476 614h5v1h-5zM470 615h6v1h-6zM465 616h5v1h-5zM459 617h6v1h-6zM454 618h5v1h-5zM448 619h6v1h-6zM445 620h3v1h-3zM448 621h6v1h-6zM454 622h5v1h-5zM459 623h6v1h-6zM465 624h5v1h-5zM470 625h6v1h-6zM476 626h5v1h-5zM481 627h6v1h-6zM487 628h5v1h-5zM492 629h6v1h-6zM498 630h3v1h-3z"/>
<path fill="#000" d="M500 328h4v1h-4zM506 328h1v3h-1zM510 328h1v3h-1zM520 328h3v1h-3zM527 328h1v1h-1zM537 328h3v1h-3zM544 328h1v1h-1zM555 328h3v1h-3zM500 329h1v6h-1zM504 329h1v6h-1zM519 329h1v1h-1zM526 329h2v1h-2zM536 329h1v1h-1zM540 329h1v2h-1zM543 329h2v1h-2zM554 329h1v2h-1zM558 329h1v2h-1zM518 330h1v1h-1zM525 330h1v1h-1zM527 330h1v3h-1zM542 330h1v1h-1zM544 330h1v5h-1zM506 331h5v1h-5zM518 331h4v1h-4zM524 331h1v2h-1zM538 331h2v1h-2zM555 331h3v1h-3zM506 332h1v4h-1zM510 332h1v4h-1zM518 332h1v3h-1zM522 332h1v3h-1zM530 332h5v1h-5zM540 332h1v3h-1zM548 332h5v1h-5zM554 332h1v3h-1zM558 332h1v3h-1zM524 333h5v1h-5zM527 334h1v2h-1zM536 334h1v1h-1zM500 335h4v1h-4zM519 335h3v1h-3zM537 335h3v1h-3zM542 335h5v1h-5zM555 335h3v1h-3zM501 348h3v1h-3zM506 348h1v3h-1zM510 348h1v3h-1zM520 348h3v1h-3zM524 348h5v1h-5zM537 348h3v1h-3zM543 348h3v1h-3zM556 348h1v1h-1zM500 349h1v2h-1zM504 349h1v1h-1zM519 349h1v1h-1zM524 349h1v1h-1zM536 349h1v2h-1zM540 349h1v2h-1zM542 349h1v1h-1zM546 349h1v2h-1zM555 349h2v1h-2zM518 350h1v1h-1zM524 350h4v1h-4zM554 350h1v1h-1zM556 350h1v5h-1zM501 351h2v1h-2zM506 351h5v1h-5zM518 351h4v1h-4zM524 351h1v1h-1zM528 351h1v4h-1zM537 351h3v1h-3zM545 351h1v1h-1zM503 352h1v1h-1zM506 352h1v4h-1zM510 352h1v4h-1zM518 352h1v3h-1zM522 352h1v3h-1zM530 352h5v1h-5zM536 352h1v3h-1zM540 352h1v3h-1zM544 352h1v1h-1zM548 352h5v1h-5zM504 353h1v2h-1zM543 353h1v1h-1zM500 354h1v1h-1zM524 354h1v1h-1zM542 354h1v1h-1zM501 355h3v1h-3zM519 355h3v1h-3zM525 355h3v1h-3zM537 355h3v1h-3zM542 355h5v1h-5zM554 355h5v1h-5zM500 408h4v1h-4zM506 408h4v1h-4zM513 408h3v1h-3zM518 408h1v1h-1zM522 408h1v1h-1zM524 408h1v7h-1zM528 408h1v7h-1zM530 408h4v1h-4zM538 408h1v1h-1zM552 408h1v2h-1zM556 408h1v1h-1zM560 408h1v3h-1zM579 408h2v1h-2zM592 408h1v1h-1zM600 408h1v2h-1zM500 409h1v3h-1zM504 409h1v3h-1zM506 409h1v3h-1zM510 409h1v3h-1zM514 409h1v6h-1zM518 409h2v1h-2zM521 409h2v1h-2zM530 409h1v3h-1zM534 409h1v3h-1zM537 409h1v1h-1zM539 409h1v1h-1zM580 409h1v6h-1zM518 410h1v6h-1zM520 410h1v2h-1zM522 410h1v6h-1zM536 410h1v2h-1zM540 410h1v2h-1zM549 410h4v1h-4zM555 410h2v1h-2zM562 410h2v1h-2zM567 410h3v1h-3zM572 410h1v1h-1zM574 410h2v1h-2zM585 410h3v1h-3zM591 410h2v1h-2zM597 410h4v1h-4zM548 411h1v4h-1zM552 411h1v4h-1zM556 411h1v4h-1zM560 411h2v1h-2zM564 411h1v5h-1zM570 411h1v1h-1zM572 411h2v1h-2zM576 411h1v4h-1zM584 411h1v4h-1zM588 411h1v4h-1zM592 411h1v4h-1zM596 411h1v4h-1zM600 411h1v4h-1zM500 412h4v1h-4zM506 412h4v1h-4zM530 412h4v1h-4zM536 412h5v1h-5zM560 412h1v4h-1zM567 412h4v1h-4zM572 412h1v2h-1zM500 413h1v3h-1zM506 413h1v3h-1zM508 413h1v1h-1zM530 413h1v3h-1zM532 413h1v1h-1zM536 413h1v3h-1zM540 413h1v3h-1zM566 413h1v2h-1zM570 413h1v1h-1zM509 414h1v1h-1zM533 414h1v1h-1zM569 414h2v1h-2zM572 414h2v1h-2zM510 415h1v1h-1zM513 415h3v1h-3zM525 415h3v1h-3zM534 415h1v1h-1zM549 415h4v1h-4zM555 415h3v1h-3zM567 415h2v1h-2zM570 415h1v1h-1zM572 415h1v3h-1zM574 415h2v1h-2zM579 415h3v1h-3zM585 415h3v1h-3zM591 415h3v1h-3zM597 415h4v1h-4zM501 448h3v1h-3zM506 448h1v3h-1zM510 448h1v3h-1zM520 448h3v1h-3zM524 448h5v1h-5zM536 448h5v1h-5zM544 448h1v1h-1zM556 448h1v1h-1zM500 449h1v2h-1zM504 449h1v1h-1zM519 449h1v1h-1zM524 449h1v1h-1zM540 449h1v1h-1zM543 449h1v1h-1zM545 449h1v1h-1zM555 449h2v1h-2zM518 450h1v1h-1zM524 450h4v1h-4zM539 450h1v2h-1zM542 450h1v4h-1zM546 450h1v4h-1zM554 450h1v1h-1zM556 450h1v5h-1zM501 451h2v1h-2zM506 451h5v1h-5zM518 451h4v1h-4zM524 451h1v1h-1zM528 451h1v4h-1zM503 452h1v1h-1zM506 452h1v4h-1zM510 452h1v4h-1zM518 452h1v3h-1zM522 452h1v3h-1zM530 452h5v1h-5zM538 452h1v2h-1zM548 452h5v1h-5zM504 453h1v2h-1zM500 454h1v1h-1zM524 454h1v1h-1zM537 454h1v2h-1zM543 454h1v1h-1zM545 454h1v1h-1zM501 455h3v1h-3zM519 455h3v1h-3zM525 455h3v1h-3zM544 455h1v1h-1zM554 455h5v1h-5zM501 468h3v1h-3zM506 468h1v3h-1zM510 468h1v3h-1zM520 468h3v1h-3zM524 468h5v1h-5zM537 468h3v1h-3zM544 468h3v1h-3zM555 468h3v1h-3zM500 469h1v2h-1zM504 469h1v1h-1zM519 469h1v1h-1zM524 469h1v1h-1zM536 469h1v3h-1zM540 469h1v3h-1zM543 469h1v1h-1zM554 469h1v1h-1zM558 469h1v2h-1zM518 470h1v1h-1zM524 470h4v1h-4zM542 470h1v1h-1zM501 471h2v1h-2zM506 471h5v1h-5zM518 471h4v1h-4zM524 471h1v1h-1zM528 471h1v4h-1zM542 471h4v1h-4zM557 471h1v1h-1zM503 472h1v1h-1zM506 472h1v4h-1zM510 472h1v4h-1zM518 472h1v3h-1zM522 472h1v3h-1zM530 472h5v1h-5zM537 472h4v1h-4zM542 472h1v3h-1zM546 472h1v3h-1zM548 472h5v1h-5zM556 472h1v1h-1zM504 473h1v2h-1zM540 473h1v1h-1zM555 473h1v1h-1zM500 474h1v1h-1zM524 474h1v1h-1zM539 474h1v1h-1zM554 474h1v1h-1zM501 475h3v1h-3zM519 475h3v1h-3zM525 475h3v1h-3zM536 475h3v1h-3zM543 475h3v1h-3zM554 475h5v1h-5zM500 488h4v1h-4zM506 488h1v3h-1zM510 488h1v3h-1zM520 488h3v1h-3zM525 488h3v1h-3zM536 488h5v1h-5zM543 488h3v1h-3zM557 488h1v1h-1zM500 489h1v6h-1zM504 489h1v6h-1zM519 489h1v1h-1zM524 489h1v1h-1zM528 489h1v2h-1zM540 489h1v1h-1zM542 489h1v1h-1zM546 489h1v2h-1zM556 489h2v1h-2zM518 490h1v1h-1zM539 490h1v2h-1zM555 490h1v1h-1zM557 490h1v3h-1zM506 491h5v1h-5zM518 491h4v1h-4zM526 491h2v1h-2zM545 491h1v1h-1zM554 491h1v2h-1zM506 492h1v4h-1zM510 492h1v4h-1zM518 492h1v3h-1zM522 492h1v3h-1zM528 492h1v3h-1zM530 492h5v1h-5zM538 492h1v2h-1zM544 492h1v1h-1zM548 492h5v1h-5zM543 493h1v1h-1zM554 493h5v1h-5zM524 494h1v1h-1zM537 494h1v2h-1zM542 494h1v1h-1zM557 494h1v2h-1zM500 495h4v1h-4zM519 495h3v1h-3zM525 495h3v1h-3zM542 495h5v1h-5zM501 508h3v1h-3zM506 508h1v3h-1zM510 508h1v3h-1zM520 508h3v1h-3zM525 508h3v1h-3zM538 508h1v1h-1zM542 508h5v1h-5zM556 508h1v1h-1zM562 508h1v1h-1zM500 509h1v2h-1zM504 509h1v1h-1zM519 509h1v1h-1zM524 509h1v1h-1zM528 509h1v2h-1zM537 509h2v1h-2zM542 509h1v1h-1zM555 509h2v1h-2zM561 509h2v1h-2zM518 510h1v1h-1zM536 510h1v1h-1zM538 510h1v5h-1zM542 510h4v1h-4zM554 510h1v1h-1zM556 510h1v5h-1zM560 510h1v1h-1zM562 510h1v5h-1zM501 511h2v1h-2zM506 511h5v1h-5zM518 511h4v1h-4zM527 511h1v1h-1zM542 511h1v1h-1zM546 511h1v4h-1zM503 512h1v1h-1zM506 512h1v4h-1zM510 512h1v4h-1zM518 512h1v3h-1zM522 512h1v3h-1zM526 512h1v1h-1zM530 512h5v1h-5zM548 512h5v1h-5zM504 513h1v2h-1zM525 513h1v1h-1zM500 514h1v1h-1zM524 514h1v1h-1zM542 514h1v1h-1zM501 515h3v1h-3zM519 515h3v1h-3zM524 515h5v1h-5zM536 515h5v1h-5zM543 515h3v1h-3zM554 515h5v1h-5zM560 515h5v1h-5zM500 528h4v1h-4zM506 528h1v3h-1zM510 528h1v3h-1zM520 528h3v1h-3zM525 528h3v1h-3zM536 528h5v1h-5zM543 528h3v1h-3zM557 528h1v1h-1zM500 529h1v6h-1zM504 529h1v6h-1zM519 529h1v1h-1zM524 529h1v1h-1zM528 529h1v2h-1zM540 529h1v1h-1zM542 529h1v1h-1zM546 529h1v2h-1zM556 529h2v1h-2zM518 530h1v1h-1zM539 530h1v2h-1zM555 530h1v1h-1zM557 530h1v3h-1zM506 531h5v1h-5zM518 531h4v1h-4zM526 531h2v1h-2zM545 531h1v1h-1zM554 531h1v2h-1zM506 532h1v4h-1zM510 532h1v4h-1zM518 532h1v3h-1zM522 532h1v3h-1zM528 532h1v3h-1zM530 532h5v1h-5zM538 532h1v2h-1zM544 532h1v1h-1zM548 532h5v1h-5zM543 533h1v1h-1zM554 533h5v1h-5zM524 534h1v1h-1zM537 534h1v2h-1zM542 534h1v1h-1zM557 534h1v2h-1zM500 535h4v1h-4zM519 535h3v1h-3zM525 535h3v1h-3zM542 535h5v1h-5zM501 548h3v1h-3zM506 548h1v3h-1zM510 548h1v3h-1zM520 548h3v1h-3zM525 548h3v1h-3zM538 548h1v1h-1zM544 548h3v1h-3zM557 548h1v1h-1zM563 548h1v1h-1zM500 549h1v2h-1zM504 549h1v1h-1zM519 549h1v1h-1zM524 549h1v1h-1zM528 549h1v2h-1zM537 549h2v1h-2zM543 549h1v1h-1zM556 549h2v1h-2zM562 549h2v1h-2zM518 550h1v1h-1zM536 550h1v1h-1zM538 550h1v5h-1zM542 550h1v1h-1zM555 550h1v1h-1zM557 550h1v3h-1zM561 550h1v1h-1zM563 550h1v3h-1zM501 551h2v1h-2zM506 551h5v1h-5zM518 551h4v1h-4zM527 551h1v1h-1zM542 551h4v1h-4zM554 551h1v2h-1zM560 551h1v2h-1zM503 552h1v1h-1zM506 552h1v4h-1zM510 552h1v4h-1zM518 552h1v3h-1zM522 552h1v3h-1zM526 552h1v1h-1zM530 552h5v1h-5zM542 552h1v3h-1zM546 552h1v3h-1zM548 552h5v1h-5zM504 553h1v2h-1zM525 553h1v1h-1zM554 553h5v1h-5zM560 553h5v1h-5zM500 554h1v1h-1zM524 554h1v1h-1zM557 554h1v2h-1zM563 554h1v2h-1zM501 555h3v1h-3zM519 555h3v1h-3zM524 555h5v1h-5zM536 555h5v1h-5zM543 555h3v1h-3zM501 568h3v1h-3zM506 568h1v3h-1zM510 568h1v3h-1zM520 568h3v1h-3zM527 568h1v1h-1zM536 568h5v1h-5zM543 568h3v1h-3zM556 568h1v1h-1zM500 569h1v2h-1zM504 569h1v1h-1zM519 569h1v1h-1zM526 569h2v1h-2zM540 569h1v1h-1zM542 569h1v1h-1zM546 569h1v2h-1zM555 569h2v1h-2zM518 570h1v1h-1zM525 570h1v1h-1zM527 570h1v3h-1zM539 570h1v2h-1zM554 570h1v1h-1zM556 570h1v5h-1zM501 571h2v1h-2zM506 571h5v1h-5zM518 571h4v1h-4zM524 571h1v2h-1zM545 571h1v1h-1zM503 572h1v1h-1zM506 572h1v4h-1zM510 572h1v4h-1zM518 572h1v3h-1zM522 572h1v3h-1zM530 572h5v1h-5zM538 572h1v2h-1zM544 572h1v1h-1zM548 572h5v1h-5zM504 573h1v2h-1zM524 573h5v1h-5zM543 573h1v1h-1zM500 574h1v1h-1zM527 574h1v2h-1zM537 574h1v2h-1zM542 574h1v1h-1zM501 575h3v1h-3zM519 575h3v1h-3zM542 575h5v1h-5zM554 575h5v1h-5zM500 588h5v1h-5zM506 588h5v1h-5zM520 588h1v1h-1zM526 588h1v1h-1zM538 588h1v1h-1zM500 589h1v1h-1zM506 589h1v1h-1zM519 589h1v1h-1zM521 589h1v1h-1zM525 589h1v1h-1zM527 589h1v1h-1zM537 589h2v1h-2zM500 590h4v1h-4zM506 590h4v1h-4zM518 590h1v4h-1zM522 590h1v4h-1zM524 590h1v4h-1zM528 590h1v4h-1zM536 590h1v1h-1zM538 590h1v5h-1zM500 591h1v1h-1zM504 591h1v4h-1zM506 591h1v1h-1zM510 591h1v4h-1zM512 592h5v1h-5zM530 592h5v1h-5zM500 594h1v1h-1zM506 594h1v1h-1zM519 594h1v1h-1zM521 594h1v1h-1zM525 594h1v1h-1zM527 594h1v1h-1zM501 595h3v1h-3zM507 595h3v1h-3zM520 595h1v1h-1zM526 595h1v1h-1zM536 595h5v1h-5zM500 608h4v1h-4zM506 608h1v3h-1zM510 608h1v3h-1zM520 608h3v1h-3zM527 608h1v1h-1zM538 608h1v1h-1zM542 608h5v1h-5zM556 608h1v1h-1zM500 609h1v6h-1zM504 609h1v6h-1zM519 609h1v1h-1zM526 609h2v1h-2zM537 609h2v1h-2zM542 609h1v1h-1zM555 609h2v1h-2zM518 610h1v1h-1zM525 610h1v1h-1zM527 610h1v3h-1zM536 610h1v1h-1zM538 610h1v5h-1zM542 610h4v1h-4zM554 610h1v1h-1zM556 610h1v5h-1zM506 611h5v1h-5zM518 611h4v1h-4zM524 611h1v2h-1zM542 611h1v1h-1zM546 611h1v4h-1zM506 612h1v4h-1zM510 612h1v4h-1zM518 612h1v3h-1zM522 612h1v3h-1zM530 612h5v1h-5zM548 612h5v1h-5zM524 613h5v1h-5zM527 614h1v2h-1zM542 614h1v1h-1zM500 615h4v1h-4zM519 615h3v1h-3zM536 615h5v1h-5zM543 615h3v1h-3zM554 615h5v1h-5zM501 628h3v1h-3zM506 628h1v3h-1zM510 628h1v3h-1zM520 628h3v1h-3zM525 628h3v1h-3zM538 628h1v1h-1zM544 628h3v1h-3zM556 628h1v1h-1zM561 628h3v1h-3zM500 629h1v2h-1zM504 629h1v1h-1zM519 629h1v1h-1zM524 629h1v1h-1zM528 629h1v2h-1zM537 629h2v1h-2zM543 629h1v1h-1zM555 629h2v1h-2zM560 629h1v2h-1zM564 629h1v2h-1zM518 630h1v1h-1zM536 630h1v1h-1zM538 630h1v5h-1zM542 630h1v1h-1zM554 630h1v1h-1zM556 630h1v5h-1zM501 631h2v1h-2zM506 631h5v1h-5zM518 631h4v1h-4zM527 631h1v1h-1zM542 631h4v1h-4zM561 631h3v1h-3zM503 632h1v1h-1zM506 632h1v4h-1zM510 632h1v4h-1zM518 632h1v3h-1zM522 632h1v3h-1zM526 632h1v1h-1zM530 632h5v1h-5zM542 632h1v3h-1zM546 632h1v3h-1zM548 632h5v1h-5zM560 632h1v3h-1zM564 632h1v3h-1zM504 633h1v2h-1zM525 633h1v1h-1zM500 634h1v1h-1zM524 634h1v1h-1zM501 635h3v1h-3zM519 635h3v1h-3zM524 635h5v1h-5zM536 635h5v1h-5zM543 635h3v1h-3zM554 635h5v1h-5zM561 635h3v1h-3z"/>
</svg>
</body></html>
